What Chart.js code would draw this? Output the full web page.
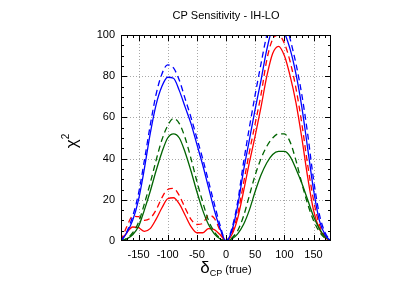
<!DOCTYPE html>
<html><head><meta charset="utf-8">
<script src="https://cdn.jsdelivr.net/npm/chart.js@4"></script>
<style>html,body{margin:0;padding:0;background:#fff}#wrap{width:415px;height:290px}</style>
</head><body><div id="wrap"><canvas id="c" width="415" height="290"></canvas></div>
<script>
const deltas = [-180,-170,-160,-150,-140,-130,-120,-110,-100,-90,-80,-70,-60,-50,-40,-30,-20,-10,0,10,20,30,40,50,60,70,80,90,100,110,120,130,140,150,160,170,180];
const blueSolid  = [0,4,10,20,35,52,66,75,79.5,79,73,65,57,47,37,26,15,6,0,5,17,34,49,64,78,93,103,104,101,93,81,65,45,25,10,3,0];
const blueDashed = [0,4.5,12,23,39,56,71,81,85.5,84,78,69,60,50,40,29,18,7.5,0,6,19,38,55,71,86,100,109,112,109,98,86,71,52,30,13,4,0];
const greenSolid = [0,1,3,7,15,24,34,43,50,52,50,43,34,24,15,8,3.5,1,0,1,3.5,8,15,24,32,38,42,43.5,43.5,41,35,28,20,12,6,2,0];
const greenDashed= [0,1.3,4,9,18,28,39,49,56,59.5,57,50,40,29,19,10,4.5,1.3,0,1.5,5,12,22,32,40,46,50,52,52,48,39,28,18,10,4.5,1.3,0];
const redSolid   = [0,4,6.8,6.5,4.7,6,10.5,16,20.5,21,18,12.5,7,4,4,6,5.5,3,0,3,11,24,38,51,65,80,91,94.5,90,80,67,50,31,15,6,1.5,0];
const redDashed  = [0,7,12,11.8,10,11,15,21,25,25.5,22,16,10.5,8,8.5,12.5,11,5,0,4,13,28,43,57,71,88,98,100,96,87,74,57,37,20,8,2.5,0];
const xTicks = [-150,-100,-50,0,50,100,150];
const yTicks = [0,20,40,60,80,100];
const titleText = 'CP Sensitivity - IH-LO';

function pts(arr){ return deltas.map((d,i)=>({x:d,y:arr[i]})); }
function ds(arr,color,dashed){
  return {data:pts(arr),borderColor:color,borderWidth:1.3,borderDash:dashed?[6,4]:[],pointRadius:0,fill:false,cubicInterpolationMode:'monotone'};
}
const FONT = '"Liberation Sans", Arial, sans-serif';

const decor = {
  id:'decor',
  beforeDatasetsDraw(chart){
    const {ctx, chartArea:a, scales:{x,y}} = chart;
    ctx.save();
    ctx.strokeStyle='#a8a8a8'; ctx.lineWidth=1; ctx.setLineDash([1,2]);
    ctx.beginPath();
    xTicks.forEach(v=>{ const px=Math.round(x.getPixelForValue(v))+0.5; ctx.moveTo(px,a.top); ctx.lineTo(px,a.bottom); });
    yTicks.forEach(v=>{ if(v<=0||v>=100) return; const py=Math.round(y.getPixelForValue(v))+0.5; ctx.moveTo(a.left,py); ctx.lineTo(a.right,py); });
    ctx.stroke();
    ctx.restore();
  },
  afterDraw(chart){
    const {ctx, chartArea:a, scales:{x,y}} = chart;
    ctx.save();
    ctx.strokeStyle='#000'; ctx.lineWidth=1;
    ctx.strokeRect(a.left+0.5,a.top+0.5,a.right-a.left-1,a.bottom-a.top-1);
    ctx.beginPath();
    for(let v=-170; v<=170; v+=10){
      const px=Math.round(x.getPixelForValue(v))+0.5;
      const L = (v%50===0)?6:3;
      ctx.moveTo(px,a.bottom); ctx.lineTo(px,a.bottom-L);
      ctx.moveTo(px,a.top); ctx.lineTo(px,a.top+L);
    }
    for(let v=5; v<100; v+=5){
      const py=Math.round(y.getPixelForValue(v))+0.5;
      const L = (v%20===0)?6:3;
      ctx.moveTo(a.left,py); ctx.lineTo(a.left+L,py);
      ctx.moveTo(a.right,py); ctx.lineTo(a.right-L,py);
    }
    ctx.stroke();
    ctx.fillStyle='#000';
    ctx.textAlign='center'; ctx.textBaseline='middle';
    ctx.font='11px '+FONT;
    ctx.fillText(titleText,(a.left+a.right)/2,16);
    const cx=(a.left+a.right)/2, by=273;
    ctx.textBaseline='alphabetic'; ctx.textAlign='left';
    ctx.font='17px '+FONT; const w1=ctx.measureText('δ').width;
    ctx.font='9px '+FONT; const w2=ctx.measureText('CP').width;
    ctx.font='11px '+FONT; const w3=ctx.measureText(' (true)').width;
    let sx=cx-(w1+w2+w3)/2;
    ctx.font='17px '+FONT; ctx.fillText('δ',sx,by); sx+=w1;
    ctx.font='9px '+FONT; ctx.fillText('CP',sx,by+3); sx+=w2;
    ctx.font='11px '+FONT; ctx.fillText(' (true)',sx,by);
    ctx.translate(77,141); ctx.rotate(-Math.PI/2);
    ctx.font='17px '+FONT; const wc=ctx.measureText('χ').width;
    ctx.font='10px '+FONT; const w22=ctx.measureText('2').width;
    let s2=-(wc+w22)/2;
    ctx.font='17px '+FONT; ctx.fillText('χ',s2,0);
    ctx.font='10px '+FONT; ctx.fillText('2',s2+wc,-8);
    ctx.restore();
  }
};

new Chart(document.getElementById('c'),{
  type:'line',
  data:{datasets:[
    ds(blueSolid,'#0000ff',false), ds(blueDashed,'#0000ff',true),
    ds(greenSolid,'#006400',false), ds(greenDashed,'#006400',true),
    ds(redSolid,'#ff0000',false), ds(redDashed,'#ff0000',true)
  ]},
  options:{
    responsive:false, animation:false, devicePixelRatio:1,
    layout:{padding:{left:0,right:84,top:35,bottom:0}},
    plugins:{legend:{display:false},title:{display:false},tooltip:{enabled:false}},
    scales:{
      x:{type:'linear',min:-180,max:180,
        afterBuildTicks(s){ s.ticks = xTicks.map(v=>({value:v})); },
        afterFit(s){ s.height=49; },
        grid:{display:false,drawTicks:false,tickLength:0},
        border:{display:false},
        ticks:{color:'#000',font:{family:FONT,size:11},padding:7,maxRotation:0}
      },
      y:{type:'linear',min:0,max:100,
        afterBuildTicks(s){ s.ticks = yTicks.map(v=>({value:v})); },
        afterFit(s){ s.width=121; },
        grid:{display:false,drawTicks:false,tickLength:0},
        border:{display:false},
        ticks:{color:'#000',font:{family:FONT,size:11},padding:6}
      }
    }
  },
  plugins:[decor]
});
</script></body></html>
